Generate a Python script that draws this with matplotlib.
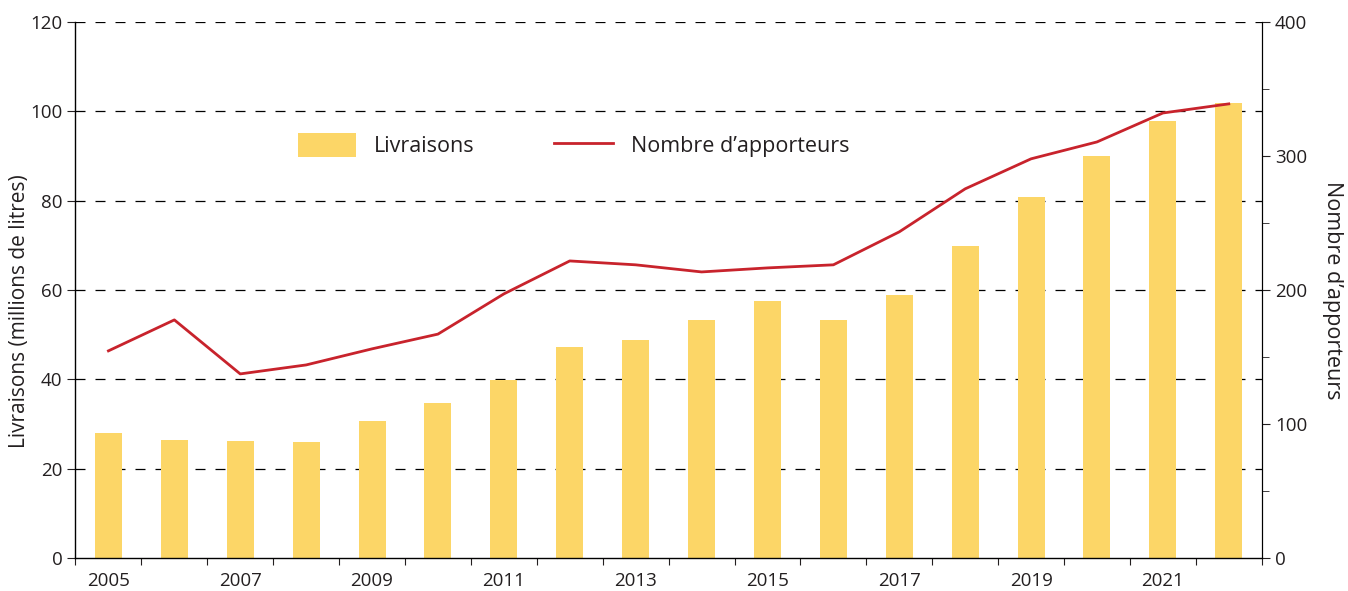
import matplotlib.pyplot as plt
from matplotlib.patches import Patch
from matplotlib.lines import Line2D
from matplotlib.ticker import MultipleLocator

plt.rcParams['font.family'] = ['Open Sans', 'DejaVu Sans']
plt.rcParams['text.color'] = '#231f20'
plt.rcParams['axes.labelcolor'] = '#231f20'
plt.rcParams['xtick.color'] = '#231f20'
plt.rcParams['ytick.color'] = '#231f20'

# Data
years = list(range(2005, 2023))
livraisons = [28.0, 26.4, 26.2, 26.0, 30.7, 34.7, 39.8, 47.2, 48.8, 53.3,
              57.5, 53.3, 58.9, 69.8, 80.8, 90.0, 97.8, 101.9]
apporteurs = [154.5, 177.6, 137.3, 144, 156, 167, 197, 221.6, 218.7, 213.4,
              216.4, 218.7, 243.3, 275.4, 297.8, 310.4, 332, 338.8]
tick_years = [2005, 2007, 2009, 2011, 2013, 2015, 2017, 2019, 2021]

bar_color = '#fcd667'
line_color = '#c8232c'

fig, ax = plt.subplots(figsize=(13.48, 5.91), dpi=100)
fig.subplots_adjust(left=0.056, right=0.936, top=0.963, bottom=0.056)

x = list(range(len(years)))
ax.bar(x, livraisons, width=0.41, color=bar_color, zorder=2)
ax.set_xlim(-0.5, len(years) - 0.5)
ax.set_ylim(0, 120)
ax.yaxis.set_major_locator(MultipleLocator(20))
ax.set_axisbelow(True)
for v in range(20, 121, 20):
    ax.axhline(v, color='black', lw=0.9, ls=(0, (8, 8)), zorder=1)

ax.set_xticks([i + 0.5 for i in range(-1, len(years))], minor=False)
ax.set_xticklabels([])
ax.set_xticks([years.index(y) for y in tick_years], minor=True)
ax.set_xticklabels([str(y) for y in tick_years], minor=True, fontsize=13.5)
ax.tick_params(axis='x', which='major', length=5, direction='out')
ax.tick_params(axis='x', which='minor', length=0, pad=10)
ax.tick_params(axis='y', length=6, labelsize=13.5)
ax.set_ylabel('Livraisons (millions de litres)', fontsize=15)
ax.yaxis.set_label_coords(-0.038, 0.46)

ax.spines['top'].set_visible(False)
ax.spines['left'].set_linewidth(1.0)
ax.spines['bottom'].set_linewidth(1.0)

ax2 = ax.twinx()
ax2.plot(x, apporteurs, color=line_color, lw=2, zorder=3)
ax2.set_ylim(0, 400)
ax2.yaxis.set_major_locator(MultipleLocator(100))
ax2.yaxis.set_minor_locator(MultipleLocator(50))
ax2.tick_params(axis='y', which='major', length=6, labelsize=13.5)
ax2.tick_params(axis='y', which='minor', length=5)
ax2.spines['top'].set_visible(False)
ax2.spines['left'].set_visible(False)
ax2.spines['bottom'].set_visible(False)
ax2.set_ylabel("Nombre d\u2019apporteurs", fontsize=15.5, rotation=270, labelpad=26)

handles = [Patch(facecolor=bar_color, edgecolor='none'),
           Line2D([0], [0], color=line_color, lw=2)]
ax2.legend(handles, ['Livraisons', "Nombre d\u2019apporteurs"], ncol=2, frameon=False,
           loc='center left', bbox_to_anchor=(0.171, 0.77), fontsize=15.5,
           handlelength=2.7, handleheight=1.3, handletextpad=0.85, columnspacing=3.7)

fig.savefig('out.png', dpi=100)
